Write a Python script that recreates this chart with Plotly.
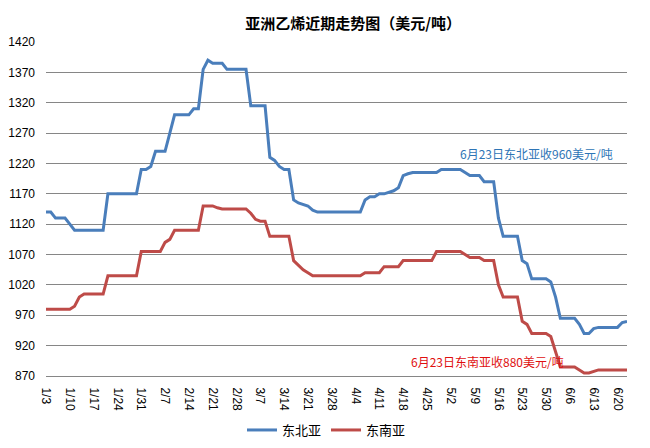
import pandas as pd
import plotly.graph_objects as go

# business days 2011-01-03 .. 2011-06-22
dates = pd.bdate_range("2011-01-03", periods=123)
categories = [f"{d.month}/{d.day}" for d in dates]

tick_labels = ["1/3", "1/10", "1/17", "1/24", "1/31", "2/7", "2/14", "2/21", "2/28",
               "3/7", "3/14", "3/21", "3/28", "4/4", "4/11", "4/18", "4/25", "5/2",
               "5/9", "5/16", "5/23", "5/30", "6/6", "6/13", "6/20"]

# 东北亚
northeast = [1140, 1140, 1130, 1130, 1130, 1120, 1110, 1110, 1110, 1110,
             1110, 1110, 1110, 1170, 1170, 1170, 1170, 1170, 1170, 1170,
             1210, 1210, 1215, 1240, 1240, 1240, 1270, 1300, 1300, 1300,
             1300, 1310, 1310, 1375, 1390, 1385, 1385, 1385, 1375, 1375,
             1375, 1375, 1375, 1315, 1315, 1315, 1315, 1230, 1225, 1215,
             1210, 1210, 1160, 1155, 1153, 1150, 1143, 1140, 1140, 1140,
             1140, 1140, 1140, 1140, 1140, 1140, 1140, 1160, 1165, 1165,
             1170, 1170, 1172, 1175, 1180, 1200, 1203, 1205, 1205, 1205,
             1205, 1205, 1205, 1210, 1210, 1210, 1210, 1210, 1205, 1200,
             1200, 1200, 1190, 1190, 1190, 1130, 1100, 1100, 1100, 1100,
             1060, 1055, 1030, 1030, 1030, 1030, 1025, 1000, 965, 965,
             965, 965, 955, 940, 940, 948, 950, 950, 950, 950,
             950, 958, 960]

# 东南亚
southeast = [980, 980, 980, 980, 980, 980, 985, 1000, 1005, 1005,
             1005, 1005, 1005, 1035, 1035, 1035, 1035, 1035, 1035, 1035,
             1075, 1075, 1075, 1075, 1075, 1090, 1095, 1110, 1110, 1110,
             1110, 1110, 1110, 1150, 1150, 1150, 1147, 1145, 1145, 1145,
             1145, 1145, 1145, 1138, 1128, 1125, 1125, 1100, 1100, 1100,
             1100, 1100, 1060, 1052, 1045, 1040, 1035, 1035, 1035, 1035,
             1035, 1035, 1035, 1035, 1035, 1035, 1035, 1040, 1040, 1040,
             1040, 1050, 1050, 1050, 1050, 1060, 1060, 1060, 1060, 1060,
             1060, 1060, 1075, 1075, 1075, 1075, 1075, 1075, 1070, 1065,
             1065, 1065, 1060, 1060, 1060, 1020, 1000, 1000, 1000, 1000,
             960, 955, 940, 940, 940, 940, 935, 910, 885, 885,
             885, 885, 880, 875, 875, 878, 880, 880, 880, 880,
             880, 880, 880]

font_cn = "Noto Sans CJK SC"
font_num = "Liberation Sans"

fig = go.Figure()
fig.add_trace(go.Scatter(x=categories, y=northeast, mode="lines", name="东北亚",
                         line=dict(color="#4A7EBB", width=3)))
fig.add_trace(go.Scatter(x=categories, y=southeast, mode="lines", name="东南亚",
                         line=dict(color="#BE4B48", width=3)))

# the page body adds an 8px offset, so the margins are shifted by that amount
fig.update_layout(
    width=650, height=448,
    paper_bgcolor="white", plot_bgcolor="white",
    margin=dict(l=38, r=31, t=34, b=80, autoexpand=False),
    font=dict(family=font_cn, size=12, color="#000"),
    title=dict(text="<b>亚洲乙烯近期走势图（美元/吨）</b>", x=0.531, xanchor="center",
               y=0.964, yanchor="middle", font=dict(size=15, family=font_cn)),
    showlegend=True,
    legend=dict(orientation="h", x=0.49, xanchor="center", xref="container",
                y=0.058, yanchor="middle", yref="container",
                font=dict(size=13, family=font_cn), itemwidth=30,
                traceorder="normal"),
    annotations=[
        dict(text="6月23日东北亚收960美元/吨", xref="paper", yref="paper",
             x=0.844, y=0.665, xanchor="center", yanchor="middle", showarrow=False,
             font=dict(size=12, color="#2E75B6", family=font_cn)),
        dict(text="6月23日东南亚收880美元/吨", xref="paper", yref="paper",
             x=0.760, y=0.044, xanchor="center", yanchor="middle", showarrow=False,
             font=dict(size=12, color="#E01010", family=font_cn)),
    ],
)

fig.update_xaxes(
    type="category", range=[0, len(categories) - 1], automargin=False,
    tickmode="array", tickvals=tick_labels, ticktext=tick_labels,
    tickangle=90, showgrid=False, showline=True, linecolor="#868686",
    ticks="", ticklabelstandoff=8,
    tickfont=dict(size=12, family=font_num),
)
fig.update_yaxes(
    range=[870, 1420], tickmode="linear", tick0=870, dtick=50, automargin=False,
    showgrid=True, gridcolor="#868686", gridwidth=1,
    zeroline=False, showline=False, ticks="", ticklabelstandoff=10,
    tickfont=dict(size=12, family=font_num),
)

fig.write_html("out.html")
